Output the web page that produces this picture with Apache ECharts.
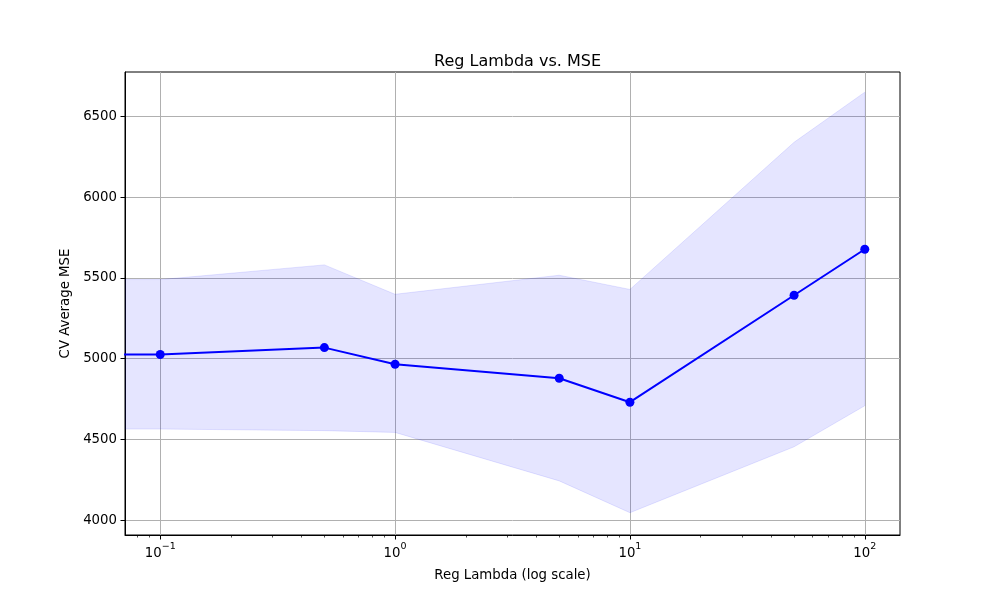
<!DOCTYPE html>
<html>
<head>
<meta charset="utf-8">
<script src="https://cdn.jsdelivr.net/npm/echarts@6/dist/echarts.min.js"></script>
<style>html,body{margin:0;padding:0;background:#fff}#c{width:1000px;height:600px}</style>
</head>
<body>
<div id="c"></div>
<script>
// Data
const lambdas = [0, 0.1, 0.5, 1, 5, 10, 50, 100];
const meanMSE = [5025, 5025, 5068, 4965, 4878, 4730, 5392, 5677];
const upperMSE = [5489, 5489, 5580, 5398, 5516, 5428, 6339, 6649];
const lowerMSE = [4564, 4564, 4554, 4543, 4243, 4046, 4454, 4708];
const xTickExponents = [-1, 0, 1, 2];
const xMinorTicks = [0.08, 0.09, 0.2, 0.3, 0.4, 0.5, 0.6, 0.7, 0.8, 0.9, 2, 3, 4, 5, 6, 7, 8, 9, 20, 30, 40, 50, 60, 70, 80, 90];
const yTicks = [4000, 4500, 5000, 5500, 6000, 6500];

// log transform (non-positive values clipped like matplotlib's log scale)
const lx = v => v > 0 ? Math.log10(v) : -300;
const xs = lambdas.map(lx);
const meanData = xs.map((x, i) => [x, meanMSE[i]]);
const bandData = xs.map((x, i) => [x, lowerMSE[i], upperMSE[i]]);

const FONT = 'DejaVu Sans';
const XMIN = -1.15, XMAX = 2.15, YMIN = 3908, YMAX = 6774;

const chart = echarts.init(document.getElementById('c'));
chart.setOption({
  animation: false,
  title: {
    text: 'Reg Lambda vs. MSE',
    left: 512.5, top: 49, textAlign: 'center',
    textStyle: {fontFamily: FONT, fontSize: 16, fontWeight: 'normal', color: '#000'}
  },
  grid: {left: 125, right: 100, top: 72, bottom: 65, show: true, borderColor: '#000', borderWidth: 1, backgroundColor: 'transparent'},
  xAxis: [{
    type: 'value', min: XMIN, max: XMAX,
    name: 'Reg Lambda (log scale)', nameLocation: 'middle', nameGap: 34,
    nameTextStyle: {fontFamily: FONT, fontSize: 13.3, color: '#000'},
    axisLine: {show: true, onZero: false, lineStyle: {color: '#000', width: 1}},
    axisTick: {show: true, length: 4.5, customValues: xTickExponents, lineStyle: {color: '#000', width: 1}},
    axisLabel: {
      customValues: xTickExponents, margin: 7,
      formatter: v => '{b|10}{s|' + String(Math.round(v)).replace('-', '\u2212') + '}',
      rich: {
        b: {fontFamily: FONT, fontSize: 13.3, color: '#000', lineHeight: 18, verticalAlign: 'bottom'},
        s: {fontFamily: FONT, fontSize: 9.5, color: '#000', lineHeight: 18, verticalAlign: 'top'}
      }
    },
    splitLine: {show: true, lineStyle: {color: '#b0b0b0', width: 1}}
  }, {
    type: 'value', min: XMIN, max: XMAX, position: 'bottom',
    axisLine: {show: false, onZero: false},
    axisTick: {show: true, length: 2.5, customValues: xMinorTicks.map(lx), lineStyle: {color: '#000', width: 0.7}},
    axisLabel: {show: false},
    splitLine: {show: false}
  }],
  yAxis: {
    type: 'value', min: YMIN, max: YMAX,
    name: 'CV Average MSE', nameLocation: 'middle', nameGap: 52, nameRotate: 90,
    nameTextStyle: {fontFamily: FONT, fontSize: 13.3, color: '#000'},
    axisLine: {show: true, onZero: false, lineStyle: {color: '#000', width: 1}},
    axisTick: {show: true, length: 4.5, customValues: yTicks, lineStyle: {color: '#000', width: 1}},
    axisLabel: {customValues: yTicks, margin: 8, fontFamily: FONT, fontSize: 13.3, color: '#000', formatter: v => String(v)},
    splitLine: {show: true, lineStyle: {color: '#b0b0b0', width: 1}}
  },
  series: [{
    type: 'custom', name: 'band', data: bandData, z: 1,
    encode: {x: 0, y: [1, 2]},
    renderItem: (params, api) => {
      if (params.dataIndex !== 0) return null;
      const upper = bandData.map(d => api.coord([d[0], d[2]]));
      const lower = bandData.map(d => api.coord([d[0], d[1]])).reverse();
      const cs = params.coordSys;
      return {
        type: 'polygon',
        shape: {points: upper.concat(lower)},
        style: {fill: 'rgba(0,0,255,0.1)', stroke: 'rgba(0,0,255,0.1)', lineWidth: 1},
        clipPath: {type: 'rect', shape: {x: cs.x, y: cs.y, width: cs.width, height: cs.height}}
      };
    }
  }, {
    type: 'line', name: 'mean', data: meanData, clip: true,
    symbol: 'circle', symbolSize: 9,
    itemStyle: {color: '#0000ff'},
    lineStyle: {color: '#0000ff', width: 2}, z: 3
  }]
});
</script>
</body>
</html>
